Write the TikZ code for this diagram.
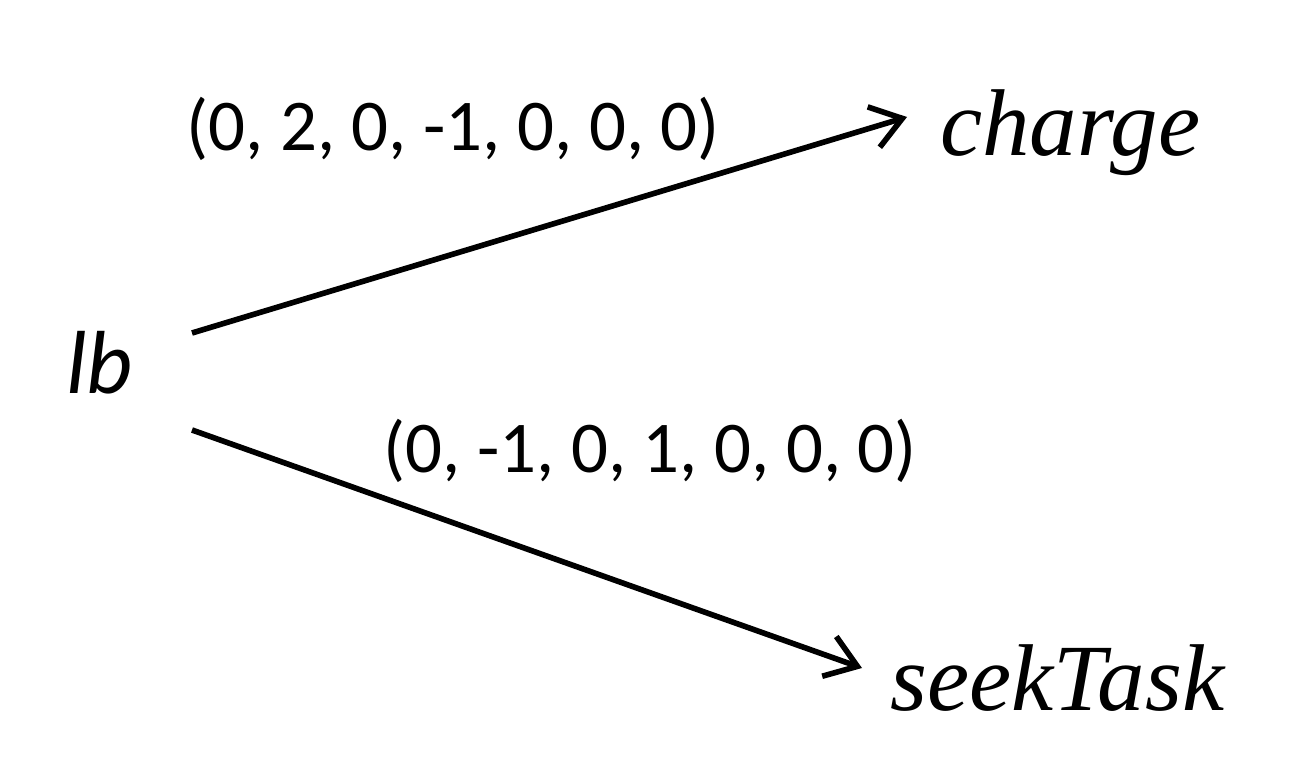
\documentclass[tikz,border=0pt]{standalone}
\usepackage{fontspec}
\setmainfont{Liberation Serif}
\newfontfamily\carlito{Carlito}
\usetikzlibrary{arrows.meta}
\tikzset{
  state/.style={inner sep=0pt, anchor=base west, font=\fontsize{54}{62}\selectfont\itshape},
  srcstate/.style={inner sep=0pt, anchor=base west, font=\carlito\fontsize{51}{60}\selectfont\itshape},
  lbl/.style={inner sep=0pt, anchor=base, font=\carlito\fontsize{41.5}{48}\selectfont},
  trans/.style={line width=3.2pt, -{Straight Barb[length=17pt,width=24pt,line width=3.2pt]}}
}
\begin{document}
\begin{tikzpicture}[x=0.02cm,y=-0.02cm]
\useasboundingbox (0,0) rectangle (1316,784);
\node[srcstate] (lb) at (66,393) {lb};
\node[state] (charge) at (940,155) {charge};
\node[state] (seek) at (890,710) {seekTask};
\coordinate (s1) at (192,333);
\coordinate (s2) at (192,430);
\coordinate (t1) at (907,117);
\coordinate (t2) at (862,668);
\draw[trans] (s1) -- (t1);
\draw[trans] (s2) -- (t2);
\node[lbl] (l1) at (453,151) {(0, 2, 0, -1, 0, 0, 0)};
\node[lbl] (l2) at (650,472) {(0, -1, 0, 1, 0, 0, 0)};
\end{tikzpicture}
\end{document}
